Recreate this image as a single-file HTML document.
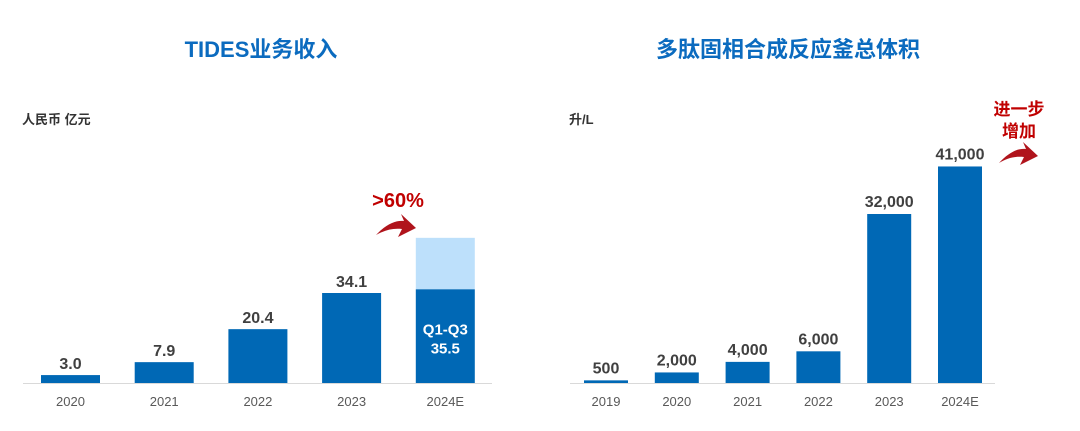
<!DOCTYPE html>
<html><head><meta charset="utf-8"><style>
body{margin:0;background:#fff;width:1080px;height:426px;overflow:hidden;font-family:"Liberation Sans","Noto Sans CJK SC",sans-serif;}
</style></head><body>
<svg id="svg" width="1080" height="426" xmlns="http://www.w3.org/2000/svg" font-family="Liberation Sans, Noto Sans CJK SC, sans-serif">
<text x="261" y="57" text-anchor="middle" font-size="22" font-weight="bold" fill="#0b6bbf">TIDES业务收入</text>
<text x="788" y="57" text-anchor="middle" font-size="22" font-weight="bold" fill="#0b6bbf">多肽固相合成反应釜总体积</text>
<text x="22" y="124" font-size="13" font-weight="bold" fill="#333">人民币 亿元</text>
<text x="569" y="124" font-size="13" font-weight="bold" fill="#333">升/L</text>
<line x1="23" y1="383.5" x2="492" y2="383.5" stroke="#d9d9d9" stroke-width="1"/>
<line x1="570" y1="383.5" x2="995" y2="383.5" stroke="#d9d9d9" stroke-width="1"/>
<text x="398" y="207" text-anchor="middle" font-size="20" font-weight="bold" fill="#c00000">&gt;60%</text>
<path d="M376,235 C386,224 396,220 404,221 L401,214 L416,228 L398,237 L402,229 C393,228 385,230 376,235 Z" fill="#b0141c"/>
<text x="1019" y="115" text-anchor="middle" font-size="17" font-weight="bold" fill="#c00000">进一步</text>
<text x="1019" y="137" text-anchor="middle" font-size="17" font-weight="bold" fill="#c00000">增加</text>
<path d="M999,163 C1009,152 1018,148 1026,149 L1023,142 L1038,156 L1020,165 L1024,157 C1015,156 1007,158 999,163 Z" fill="#b0141c"/>
</svg>
<script>
const leftCats=["2020","2021","2022","2023","2024E"];
const leftVals=[3.0,7.9,20.4,34.1,35.5];
const leftLabels=["3.0","7.9","20.4","34.1","Q1-Q3"];
const leftTotal2024=55;
const rightCats=["2019","2020","2021","2022","2023","2024E"];
const rightVals=[500,2000,4000,6000,32000,41000];
const rightLabels=["500","2,000","4,000","6,000","32,000","41,000"];

const NS="http://www.w3.org/2000/svg";
const svg=document.getElementById('svg');
function mk(tag,attrs){const e=document.createElementNS(NS,tag);for(const k in attrs)e.setAttribute(k,attrs[k]);svg.appendChild(e);return e;}
const base=383;
const ly=v=>base-v*(90/34.1);
const lx=i=>41+i*93.7;
const ry=v=>base-v*(169/32000);
const rx=i=>584+i*70.8;

leftCats.forEach((c,i)=>{
  const bw=59;
  if(i===4){
    const ex=mk('rect',{x:lx(i),y:ly(leftTotal2024),width:bw,height:ly(leftVals[i])-ly(leftTotal2024),fill:'#bde0fb'});
    
    
  }
  const r=mk('rect',{x:lx(i),y:ly(leftVals[i]),width:bw,height:base-ly(leftVals[i]),fill:'#0068b5'});
  
  
  if(i===4){
    const t1=mk('text',{x:lx(i)+bw/2,y:ly(leftVals[i])+45,'text-anchor':'middle','font-size':'15','font-weight':'bold',fill:'#fff'});
    t1.textContent='Q1-Q3';
    
    
    const t2=mk('text',{x:lx(i)+bw/2,y:ly(leftVals[i])+64,'text-anchor':'middle','font-size':'15','font-weight':'bold',fill:'#fff'});
    t2.textContent=leftVals[i].toFixed(1);
    
    
  } else {
    const t=mk('text',{x:lx(i)+bw/2,y:ly(leftVals[i])-6,'text-anchor':'middle','font-size':'16','font-weight':'bold',fill:'#404040'});
    t.textContent=leftLabels[i];
    
    
  }
  const xl=mk('text',{x:lx(i)+bw/2,y:406,'text-anchor':'middle','font-size':'13',fill:'#595959'});
  xl.textContent=c;
  
  
});

rightCats.forEach((c,i)=>{
  const bw=44;
  const r=mk('rect',{x:rx(i),y:ry(rightVals[i]),width:bw,height:base-ry(rightVals[i]),fill:'#0068b5'});
  
  
  const t=mk('text',{x:rx(i)+bw/2,y:ry(rightVals[i])-7,'text-anchor':'middle','font-size':'16','font-weight':'bold',fill:'#404040'});
  t.textContent=rightLabels[i];
  
  
  const xl=mk('text',{x:rx(i)+bw/2,y:406,'text-anchor':'middle','font-size':'13',fill:'#595959'});
  xl.textContent=c;
  
  
});
</script>
</body></html>
